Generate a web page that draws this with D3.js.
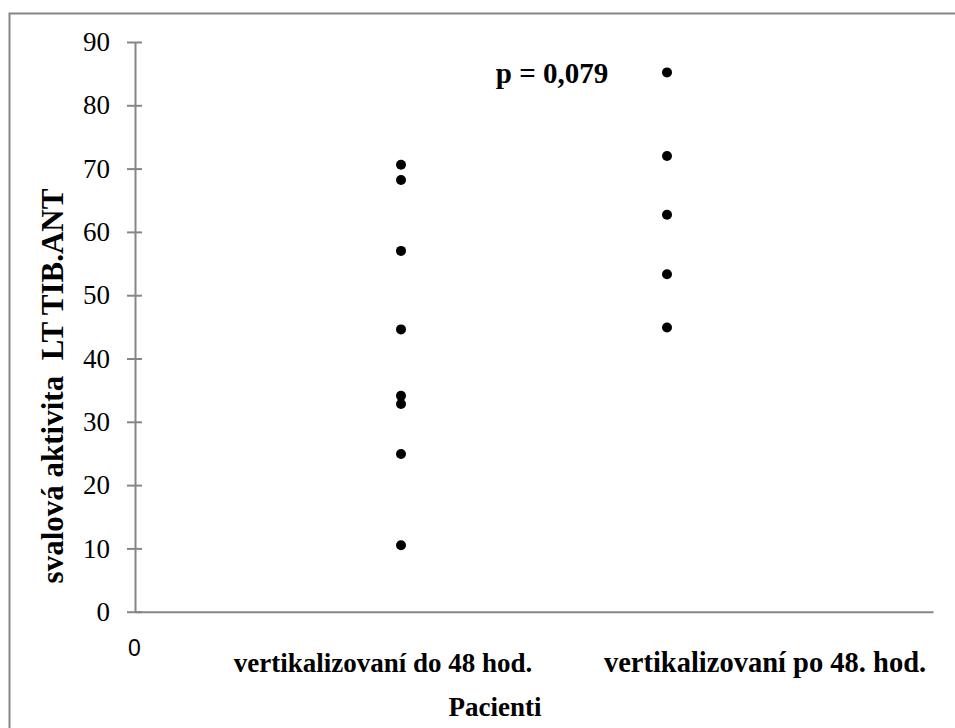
<!DOCTYPE html>
<html>
<head>
<meta charset="utf-8">
<script src="https://cdn.jsdelivr.net/npm/d3@7"></script>
<style>
  body { margin: 0; background: #fff; }
  svg { display: block; }
</style>
</head>
<body>
<script>
// data
const groups = ["vertikalizovaní do 48 hod.", "vertikalizovaní po 48. hod."];
const groupX = [1, 2];
const doValues = [70.6, 68.2, 57.0, 44.6, 34.1, 32.8, 24.9, 10.5];
const poValues = [85.2, 72.0, 62.7, 53.3, 44.9];
const yTicks = [0, 10, 20, 30, 40, 50, 60, 70, 80, 90];
const pText = "p = 0,079";

const width = 955;
const height = 728;
const serif = "'Liberation Serif', 'Times New Roman', serif";
const axisColor = "#868686";

const svg = d3.select("body").append("svg")
  .attr("width", width)
  .attr("height", height);

// chart border
svg.append("rect")
  .attr("x", 9.5).attr("y", 13.5)
  .attr("width", 960).attr("height", 730)
  .attr("fill", "none")
  .attr("stroke", axisColor)
  .attr("stroke-width", 2);

const x = d3.scaleLinear().domain([0, 3]).range([135, 933]);
const y = d3.scaleLinear().domain([0, 90]).range([611.7, 42]);

// y axis
const yAxis = svg.append("g")
  .attr("transform", `translate(${x(0)},0)`)
  .call(d3.axisLeft(y).tickValues(yTicks).tickSizeInner(8).tickSizeOuter(0).tickPadding(17));
yAxis.select(".domain").attr("stroke", axisColor).attr("stroke-width", 2);
yAxis.selectAll(".tick line").attr("stroke", axisColor).attr("stroke-width", 2).attr("x2", 7).attr("x1", -8);
yAxis.selectAll(".tick text")
  .attr("font-family", serif)
  .attr("font-size", 27)
  .attr("fill", "#000");

// x axis
const xAxis = svg.append("g")
  .attr("transform", `translate(0,${y(0)})`)
  .call(d3.axisBottom(x).tickValues([0]).tickFormat(d3.format("d")).tickSize(0).tickPadding(28));
xAxis.select(".domain").attr("stroke", axisColor).attr("stroke-width", 2);
xAxis.selectAll(".tick text")
  .attr("font-family", "'Liberation Sans', Arial, sans-serif")
  .attr("font-size", 23)
  .attr("fill", "#000")
  .attr("dx", -1);

// points
const pts = [];
doValues.forEach(v => pts.push({ g: groupX[0], v }));
poValues.forEach(v => pts.push({ g: groupX[1], v }));
svg.append("g").selectAll("circle")
  .data(pts)
  .join("circle")
  .attr("cx", d => x(d.g))
  .attr("cy", d => y(d.v))
  .attr("r", 5)
  .attr("fill", "#000");

// p value
svg.append("text")
  .attr("x", 552).attr("y", 83)
  .attr("text-anchor", "middle")
  .attr("font-family", serif)
  .attr("font-weight", "bold")
  .attr("font-size", 29)
  .text(pText);

// group labels (text boxes under the axis)
const labelX = [383, 765];
const labelSize = [27, 28.5];
svg.append("g").selectAll("text")
  .data(groups)
  .join("text")
  .attr("x", (d, i) => labelX[i])
  .attr("y", 672)
  .attr("text-anchor", "middle")
  .attr("font-family", serif)
  .attr("font-weight", "bold")
  .attr("font-size", (d, i) => labelSize[i])
  .text(d => d);

// axis titles
svg.append("text")
  .attr("x", 495).attr("y", 716)
  .attr("text-anchor", "middle")
  .attr("font-family", serif)
  .attr("font-weight", "bold")
  .attr("font-size", 27)
  .text("Pacienti");

svg.append("text")
  .attr("transform", "translate(63,386) rotate(-90)")
  .attr("text-anchor", "middle")
  .attr("font-family", serif)
  .attr("font-weight", "bold")
  .attr("font-size", 31)
  .attr("xml:space", "preserve")
  .style("white-space", "pre")
  .text("svalová aktivita  LT TIB.ANT");
</script>
</body>
</html>
